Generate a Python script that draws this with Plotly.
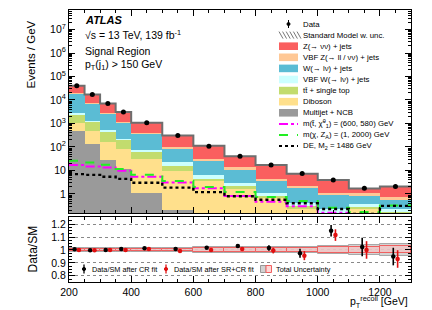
import plotly.graph_objects as go
import numpy as np

# ---------------- data ----------------
bin_edges = [200, 250, 300, 350, 400, 500, 600, 700, 800, 900, 1000, 1100, 1200, 1300]
data_obs = [4.0e4, 1.7e4, 7.1e3, 3.1e3, 1.08e3, 310, 107, 40, 17, 7.4, 3.9, 1.75, 2.06]

multijet = [500, 135, 29, 11.5, 1.15, 0.2, 0.15, 0.1, 0.05, 0.03, 0.02, 0.02, 0.02]
diboson = [500, 335, 141, 71.5, 29.85, 9.5, 3.35, 1.6, 0.6, 0.22, 0.10, 0.20, 0.11]
ttbar = [1500, 730, 300, 117, 35, 6.3, 0.8, 0.4, 0.15, 0.05, 0.03, 0.06, 0.04]
vbf_w = [200, 80, 40, 20, 7, 6, 2.2, 0.9, 0.3, 0.12, 0.07, 0.08, 0.07]
w_jets = [15800, 5620, 2190, 880, 297, 66, 19.5, 7.7, 2.8, 1.33, 0.75, 0.45, 0.30]
vbf_z = [1000, 300, 150, 70, 25, 9, 6, 2.8, 0.6, 0.45, 0.17, 0.33, 0.20]
z_jets = [20500, 9800, 4250, 1930, 685, 213, 80, 26.5, 12.5, 5.1, 2.76, 0.58, 1.36]

sig_stop = [17, 14.9, 13.5, 9.7, 5.4, 3.1, 1.75, 0.82, 0.47, 0.30, 0.16, 0.13, 0.12]
sig_axial = [26, 22, 17.5, 11.5, 6.5, 3.6, 2.0, 1.2, 0.75, 0.5, 0.26, 0.17, 0.32]
sig_de = [7.0, 6.5, 5.4, 4.4, 3.0, 1.86, 1.2, 0.8, 0.57, 0.40, 0.23, 0.14, 0.31]

ratio_cr = [1.005, 0.997, 1.0, 1.008, 1.013, 1.008, 1.018, 1.03, 1.015, 0.975, 1.149, 1.023, 0.949]
ratio_cr_err = [0.004, 0.005, 0.005, 0.006, 0.007, 0.008, 0.010, 0.015, 0.022, 0.035, 0.045, 0.072, 0.068]
ratio_srcr = [1.0, 0.997, 1.0, 1.0, 1.008, 0.992, 1.0, 1.008, 0.995, 0.956, 1.115, 1.0, 0.93]
ratio_srcr_err = [0.004, 0.005, 0.005, 0.006, 0.007, 0.008, 0.010, 0.015, 0.022, 0.035, 0.045, 0.068, 0.068]
unc_cr = [0.015, 0.015, 0.015, 0.015, 0.015, 0.018, 0.020, 0.022, 0.024, 0.026, 0.032, 0.042, 0.045]
unc_srcr = [0.008, 0.008, 0.008, 0.008, 0.009, 0.010, 0.012, 0.013, 0.015, 0.016, 0.020, 0.025, 0.027]

x_tick_vals = [200, 400, 600, 800, 1000, 1200]
y_tick_vals = [1, 10, 100, 1e3, 1e4, 1e5, 1e6, 1e7]
y_tick_text = ["1", "10", "10<sup>2</sup>", "10<sup>3</sup>", "10<sup>4</sup>",
               "10<sup>5</sup>", "10<sup>6</sup>", "10<sup>7</sup>"]
r_tick_vals = [0.8, 0.9, 1.0, 1.1, 1.2]
r_tick_text = ["0.8", "0.9", "1", "1.1", "1.2"]

# ---------------- styling ----------------
FONT = "Liberation Sans, Arial, Helvetica, sans-serif"
C_Z = "#fa5f5f"
C_VBFZ = "#ffc896"
C_W = "#5bbcd4"
C_VBFW = "#ccffff"
C_TT = "#c2dc6e"
C_DIB = "#ffe08c"
C_MJ = "#9a9a9a"

W, H = 432, 310
ML, MR, MT, MB = 69, 21, 10, 28
PW, PH = W - ML - MR, H - MT - MB


def px(xp):
    return (xp - ML) / PW


def py(yp):
    return (H - MB - yp) / PH


edges = np.array(bin_edges, dtype=float)
centers = 0.5 * (edges[:-1] + edges[1:])
widths = edges[1:] - edges[:-1]

fig = go.Figure()

# stacked backgrounds (bottom to top)
components = [
    (multijet, C_MJ), (diboson, C_DIB), (ttbar, C_TT), (vbf_w, C_VBFW),
    (w_jets, C_W), (vbf_z, C_VBFZ), (z_jets, C_Z),
]
base = np.full(len(centers), 1e-4)
for vals, col in components:
    v = np.array(vals, dtype=float)
    fig.add_trace(go.Bar(x=centers, y=v, base=base, width=widths, marker=dict(color=col, line=dict(width=0)),
                         xaxis="x", yaxis="y", showlegend=False, hoverinfo="skip"))
    base = base + v
total = base

# SM total outline
step_x = list(edges)
step_y = list(total) + [total[-1]]
fig.add_trace(go.Scatter(x=step_x, y=step_y, mode="lines", line=dict(shape="hv", color="#6e6e6e", width=2),
                         xaxis="x", yaxis="y", showlegend=False, hoverinfo="skip"))


def step(vals):
    return list(edges), list(vals) + [vals[-1]]


for vals, col, dash, wd in [(sig_stop, "#ff00ff", "dashdot", 2.0),
                            (sig_axial, "#22ee22", "dash", 2.0),
                            (sig_de, "black", "dot", 2.4)]:
    sx, sy = step(vals)
    fig.add_trace(go.Scatter(x=sx, y=sy, mode="lines", line=dict(shape="hv", color=col, dash=dash, width=wd),
                             xaxis="x", yaxis="y", showlegend=False, hoverinfo="skip"))

fig.add_trace(go.Scatter(x=centers, y=data_obs, mode="markers", marker=dict(color="black", size=5),
                         xaxis="x", yaxis="y", showlegend=False, hoverinfo="skip"))

# ratio panel bands
uc = np.array(unc_cr)
us = np.array(unc_srcr)
fig.add_trace(go.Bar(x=centers, y=2 * uc, base=1 - uc, width=widths,
                     marker=dict(color="rgba(205,205,205,0.85)", line=dict(color="#a8a8a8", width=1)),
                     xaxis="x2", yaxis="y2", showlegend=False, hoverinfo="skip"))
fig.add_trace(go.Bar(x=centers, y=2 * us, base=1 - us, width=widths,
                     marker=dict(color="rgba(255,190,190,0.55)", line=dict(color="#f06060", width=1)),
                     xaxis="x2", yaxis="y2", showlegend=False, hoverinfo="skip"))

off = 7
fig.add_trace(go.Scatter(x=centers - off, y=ratio_cr, mode="markers",
                         marker=dict(color="black", size=4.5),
                         error_y=dict(type="data", array=ratio_cr_err, color="black", thickness=1.6, width=0),
                         xaxis="x2", yaxis="y2", showlegend=False, hoverinfo="skip"))
fig.add_trace(go.Scatter(x=centers + off, y=ratio_srcr, mode="markers",
                         marker=dict(color="#e01010", size=4.5),
                         error_y=dict(type="data", array=ratio_srcr_err, color="#e01010", thickness=1.6, width=0),
                         xaxis="x2", yaxis="y2", showlegend=False, hoverinfo="skip"))

# ---------------- axes ----------------
main_minor = [m * 10.0 ** k for k in range(-1, 8) for m in range(2, 10)]
common_x = dict(range=[200, 1300], ticks="inside", ticklen=6, tickwidth=1, tickcolor="black",
                showline=True, linecolor="black", linewidth=1, mirror="allticks",
                tickvals=x_tick_vals, showgrid=False, zeroline=False,
                minor=dict(dtick=50, tick0=200, ticks="inside", ticklen=3, tickcolor="black", showgrid=False),
                tickfont=dict(family=FONT, size=10.5, color="black"))

fig.update_layout(
    width=W, height=H,
    margin=dict(l=ML, r=MR, t=MT, b=MB),
    paper_bgcolor="white", plot_bgcolor="white",
    barmode="overlay", bargap=0,
    showlegend=False,
    xaxis=dict(domain=[0, 1], anchor="y", showticklabels=False, **common_x),
    yaxis=dict(domain=[(H - MB - 213) / PH, 1], anchor="x", type="log", range=[-0.81, 7.83],
               ticks="inside", ticklen=6, tickcolor="black", showline=True, linecolor="black",
               linewidth=1, mirror="allticks", tickvals=y_tick_vals, ticktext=y_tick_text,
               showgrid=False, zeroline=False,
               minor=dict(tickvals=main_minor, ticks="inside", ticklen=3, tickcolor="black", showgrid=False),
               tickfont=dict(family=FONT, size=10.5, color="black")),
    xaxis2=dict(domain=[0, 1], anchor="y2", showticklabels=True, **common_x),
    yaxis2=dict(domain=[0, (H - MB - 217) / PH], anchor="x2", range=[0.752, 1.255],
                ticks="inside", ticklen=6, tickcolor="black", showline=True, linecolor="black",
                linewidth=1, mirror="allticks", tickvals=r_tick_vals, ticktext=r_tick_text,
                showgrid=True, gridcolor="#888888", griddash="dot", gridwidth=1, zeroline=False,
                minor=dict(dtick=0.025, tick0=0.75, ticks="inside", ticklen=3, tickcolor="black", showgrid=False),
                tickfont=dict(family=FONT, size=10.5, color="black")),
)

ann = []
shapes = []


def txt(x, y, s, size=8, xanchor="left", **kw):
    ann.append(dict(x=x, y=y, xref="paper", yref="paper", text=s, showarrow=False, xanchor=xanchor,
                    yanchor="middle", font=dict(family=FONT, size=size, color="black"), **kw))


# axis titles
txt(px(31), py(54.5), "Events / GeV", size=11.5, xanchor="center", textangle=-90)
txt(px(32), py(249.5), "Data/SM", size=12, xanchor="center", textangle=-90)
txt(px(410), py(302.3), "p<sub>T</sub><sup>recoil</sup> [GeV]", size=10.5, xanchor="right")

# labels
txt(px(83), py(20), "<b><i>ATLAS</i></b>", size=11)
txt(px(83), py(34), "√s = 13 TeV, 139 fb<sup>-1</sup>", size=10.5)
txt(px(83), py(51), "Signal Region", size=10.5)
txt(px(83), py(65), "p<sub>T</sub>(j<sub>1</sub>) > 150 GeV", size=10.5)

# main legend
leg = [
    ("Data", "data", None),
    ("Standard Model w. unc.", "hatch", None),
    ("Z(→ νν) + jets", "box", C_Z),
    ("VBF Z(→ ll / νν) + jets", "box", C_VBFZ),
    ("W(→ lν) + jets", "box", C_W),
    ("VBF W(→ lν) + jets", "box", C_VBFW),
    ("tt̄ + single top", "box", C_TT),
    ("Diboson", "box", C_DIB),
    ("Multijet + NCB", "box", C_MJ),
    ("m(t̃, χ̃<sup>0</sup><sub>1</sub>) = (600, 580) GeV", "line", ("#ff00ff", "dashdot")),
    ("m(χ, Z<sub>A</sub>) = (1, 2000) GeV", "line", ("#22ee22", "dash")),
    ("DE, M<sub>2</sub> = 1486 GeV", "line", ("black", "dot")),
]
x0, x1 = 279, 298
for i, (label, kind, sty) in enumerate(leg):
    yc = 24 + i * 11.1
    if kind == "data":
        shapes.append(dict(type="line", xref="paper", yref="paper", x0=px(288.5), x1=px(288.5),
                           y0=py(yc - 4), y1=py(yc + 4), line=dict(color="black", width=1)))
        shapes.append(dict(type="circle", xref="paper", yref="paper", x0=px(287), x1=px(290),
                           y0=py(yc - 1.5), y1=py(yc + 1.5), fillcolor="black", line=dict(color="black", width=1)))
    elif kind == "hatch":
        shapes.append(dict(type="rect", xref="paper", yref="paper", x0=px(x0), x1=px(x1),
                           y0=py(yc + 3.5), y1=py(yc - 3.5), fillcolor="white", line=dict(width=0)))
        for k in range(6):
            xa = x0 + k * 3.6
            shapes.append(dict(type="line", xref="paper", yref="paper", x0=px(xa), x1=px(xa + 4),
                               y0=py(yc - 3.5), y1=py(yc + 3.5), line=dict(color="#777777", width=1)))
    elif kind == "box":
        shapes.append(dict(type="rect", xref="paper", yref="paper", x0=px(x0), x1=px(x1),
                           y0=py(yc + 3.8), y1=py(yc - 3.8), fillcolor=sty, line=dict(width=0)))
    else:
        col, dash = sty
        shapes.append(dict(type="line", xref="paper", yref="paper", x0=px(x0), x1=px(x1),
                           y0=py(yc), y1=py(yc), line=dict(color=col, width=2, dash=dash)))
    txt(px(301), py(yc), label, size=7.8)

# ratio legend
yr = 269
for xm, col, label in [(84, "black", "Data/SM after CR fit"), (166, "#e01010", "Data/SM after SR+CR fit")]:
    shapes.append(dict(type="line", xref="paper", yref="paper", x0=px(xm), x1=px(xm),
                       y0=py(yr - 4.5), y1=py(yr + 4.5), line=dict(color=col, width=1.3)))
    shapes.append(dict(type="circle", xref="paper", yref="paper", x0=px(xm - 1.6), x1=px(xm + 1.6),
                       y0=py(yr - 1.6), y1=py(yr + 1.6), fillcolor=col, line=dict(color=col, width=1)))
    txt(px(xm + 6), py(yr), label, size=7.3)
shapes.append(dict(type="rect", xref="paper", yref="paper", x0=px(260.5), x1=px(266),
                   y0=py(yr + 3.5), y1=py(yr - 3.5), fillcolor="#d2d2d2", line=dict(color="#999999", width=1)))
shapes.append(dict(type="rect", xref="paper", yref="paper", x0=px(266), x1=px(271.5),
                   y0=py(yr + 3.5), y1=py(yr - 3.5), fillcolor="#ffd6d6", line=dict(color="#f06060", width=1)))
txt(px(274), py(yr), "Total Uncertainty", size=7.3)

fig.update_layout(annotations=ann, shapes=shapes)
fig.write_html("out.html", config={"displayModeBar": False},
               post_script="document.body.style.margin='0';document.body.style.padding='0';")
